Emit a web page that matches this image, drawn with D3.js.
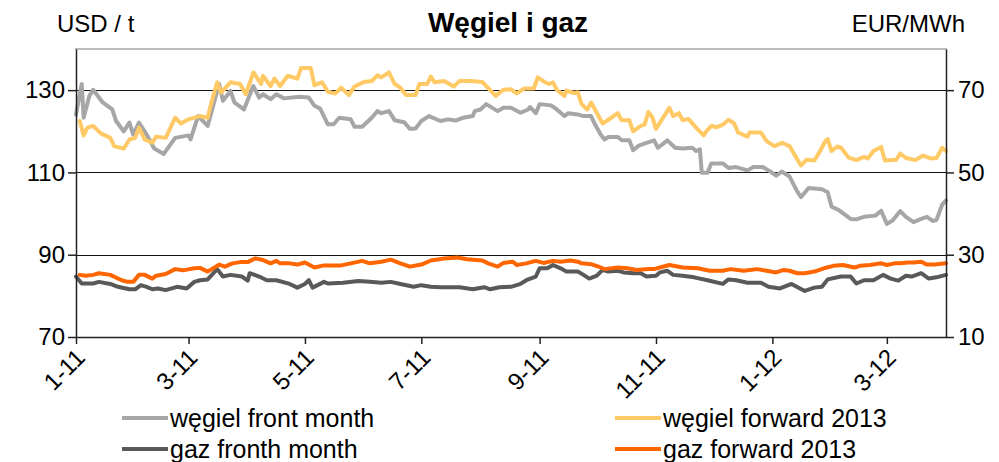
<!DOCTYPE html>
<meta charset="utf-8">
<style>
body { margin: 0; background: #fff; }
svg text { font-family: "Liberation Sans", Arial, sans-serif; fill: #000; }
.axis path, .axis line { fill: none; stroke: #222; stroke-width: 1.5; }
.axis text { font-size: 24px; }
.grid line { stroke: #111; stroke-width: 1.2; }
.series { fill: none; stroke-width: 4; stroke-linejoin: round; stroke-linecap: round; }
</style>
<body>
<svg></svg>
<script src="https://d3js.org/d3.v7.min.js"></script>
<script>

// coal, USD/t (left axis)
var coalFront = [
  ["2011-01-01",124.1],["2011-01-04",131.5],["2011-01-05",123.3],["2011-01-08",128.6],["2011-01-10",130.1],
  ["2011-01-15",127],["2011-01-20",125.3],["2011-01-22",122.5],["2011-01-26",120],["2011-01-29",122.1],
  ["2011-01-31",119.2],["2011-02-03",122.1],["2011-02-07",119.2],["2011-02-11",115.8],["2011-02-16",114.5],
  ["2011-02-22",118.4],["2011-03-01",119],["2011-03-02",118],["2011-03-06",123.7],["2011-03-11",121.3],
  ["2011-03-17",131.5],["2011-03-19",127.4],["2011-03-23",129.8],["2011-03-25",127],["2011-03-30",125.3],
  ["2011-04-04",131],["2011-04-07",128.2],["2011-04-09",129],["2011-04-13",127.8],["2011-04-16",129],
  ["2011-04-20",128],["2011-04-28",128.4],["2011-05-03",128.2],["2011-05-06",126.2],["2011-05-09",125.5],
  ["2011-05-13",121.7],["2011-05-16",121.7],["2011-05-19",123.3],["2011-05-25",122.9],["2011-05-27",121.1],
  ["2011-05-31",121.1],["2011-06-05",123.3],["2011-06-08",124.9],["2011-06-10",124.4],["2011-06-14",124.9],
  ["2011-06-17",122.7],["2011-06-22",122.2],["2011-06-25",120.6],["2011-06-28",120.7],["2011-07-01",122.5],
  ["2011-07-05",123.7],["2011-07-11",122.5],["2011-07-15",122.9],["2011-07-19",122.6],["2011-07-23",123.3],
  ["2011-07-28",123.7],["2011-07-29",124.9],["2011-08-01",125.3],["2011-08-04",126.6],["2011-08-10",124.9],
  ["2011-08-13",125.7],["2011-08-17",125.7],["2011-08-22",124.5],["2011-08-26",125.3],["2011-08-27",125.9],
  ["2011-08-30",124.4],["2011-09-01",126.6],["2011-09-07",126.3],["2011-09-10",125.3],["2011-09-14",123.7],
  ["2011-09-16",124.4],["2011-09-21",124.1],["2011-09-24",123.7],["2011-09-28",123.7],["2011-09-30",121.7],
  ["2011-10-03",119.2],["2011-10-05",118],["2011-10-07",118.6],["2011-10-12",118.6],["2011-10-14",117.8],
  ["2011-10-18",117.8],["2011-10-20",115.4],["2011-10-23",116.5],["2011-10-27",117.2],["2011-10-31",117.8],
  ["2011-11-02",116],["2011-11-07",117.8],["2011-11-11",116],["2011-11-15",115.8],["2011-11-20",116],
  ["2011-11-22",115.2],["2011-11-24",115.6],["2011-11-25",109.9],["2011-11-28",109.9],["2011-11-30",112.2],
  ["2011-12-06",112.2],["2011-12-09",111.1],["2011-12-13",111.3],["2011-12-19",110.5],["2011-12-22",111.3],
  ["2011-12-27",111.3],["2011-12-31",110.2],["2012-01-03",109.2],["2012-01-06",110.2],["2012-01-10",109],
  ["2012-01-14",105.4],["2012-01-16",104],["2012-01-20",106.2],["2012-01-27",105.9],["2012-01-30",105.2],
  ["2012-02-01",101.7],["2012-02-05",100.8],["2012-02-11",98.7],["2012-02-14",98.6],["2012-02-18",99.2],
  ["2012-02-24",99.5],["2012-02-27",100.7],["2012-03-01",97.5],["2012-03-04",98.3],["2012-03-08",100.6],
  ["2012-03-11",99.2],["2012-03-15",97.9],["2012-03-19",98.7],["2012-03-22",99.2],["2012-03-25",98.2],
  ["2012-03-27",98.4],["2012-03-30",102.2],["2012-04-01",103.2]
];

var coalFwd = [
  ["2011-01-03",122.5],["2011-01-05",119],["2011-01-07",120.9],["2011-01-10",121.3],["2011-01-14",119.5],
  ["2011-01-19",118.4],["2011-01-21",116.4],["2011-01-26",115.8],["2011-01-29",118],["2011-02-01",118.4],
  ["2011-02-03",120.9],["2011-02-06",118],["2011-02-10",117.2],["2011-02-12",118.7],["2011-02-17",118.4],
  ["2011-02-22",123.3],["2011-02-25",121.9],["2011-03-01",122.9],["2011-03-07",123.7],["2011-03-11",123.3],
  ["2011-03-13",127],["2011-03-16",131.9],["2011-03-18",129.4],["2011-03-23",131.9],["2011-03-28",131.5],
  ["2011-03-31",129],["2011-04-04",134.3],["2011-04-08",131.5],["2011-04-09",133.5],["2011-04-13",131],
  ["2011-04-15",132.8],["2011-04-18",131],["2011-04-22",133.5],["2011-04-27",132.8],["2011-04-29",135.4],
  ["2011-05-04",135.4],["2011-05-06",131.2],["2011-05-10",131.9],["2011-05-13",129.6],["2011-05-17",129.2],
  ["2011-05-20",130.6],["2011-05-24",128.8],["2011-05-27",130.9],["2011-06-01",132],["2011-06-05",132.2],
  ["2011-06-08",133.6],["2011-06-10",133.1],["2011-06-14",134.3],["2011-06-17",131.5],["2011-06-20",130.6],
  ["2011-06-23",128.8],["2011-06-28",128.8],["2011-06-30",131.5],["2011-07-04",131.5],["2011-07-06",133.3],
  ["2011-07-08",131.9],["2011-07-13",132.2],["2011-07-18",130.9],["2011-07-21",132.2],["2011-07-27",132.2],
  ["2011-08-02",132],["2011-08-04",131],["2011-08-09",128.6],["2011-08-13",130.1],["2011-08-17",130.2],
  ["2011-08-20",129.2],["2011-08-24",130.4],["2011-08-29",130.4],["2011-08-31",133.1],["2011-09-04",131.9],
  ["2011-09-06",131.5],["2011-09-08",131.9],["2011-09-10",130.1],["2011-09-14",128.6],["2011-09-15",129.9],
  ["2011-09-19",129.3],["2011-09-21",129.5],["2011-09-23",126.6],["2011-09-26",125.3],["2011-09-28",127],
  ["2011-09-30",125.3],["2011-10-04",121.9],["2011-10-07",122.8],["2011-10-12",124.4],["2011-10-14",122.7],
  ["2011-10-18",122.7],["2011-10-20",120],["2011-10-24",121.3],["2011-10-26",121.6],["2011-10-28",124.7],
  ["2011-10-30",123.5],["2011-11-01",120.6],["2011-11-04",122.8],["2011-11-08",125.7],["2011-11-10",123.7],
  ["2011-11-13",124.4],["2011-11-15",122.7],["2011-11-18",123],["2011-11-22",120.9],["2011-11-26",119],
  ["2011-11-27",119.8],["2011-11-30",121.3],["2011-12-03",121],["2011-12-06",121.6],["2011-12-09",122.8],
  ["2011-12-12",121.9],["2011-12-14",119.7],["2011-12-19",118.7],["2011-12-20",119.7],["2011-12-26",119.7],
  ["2011-12-29",117.6],["2012-01-02",116.4],["2012-01-06",117.2],["2012-01-10",116.4],["2012-01-13",114],
  ["2012-01-16",111.7],["2012-01-19",113.1],["2012-01-23",112.9],["2012-01-26",115.2],["2012-01-29",117.8],
  ["2012-01-30",118.1],["2012-02-01",115.2],["2012-02-04",116.3],["2012-02-06",116],["2012-02-10",113.6],
  ["2012-02-14",113],["2012-02-18",113.8],["2012-02-20",113.4],["2012-02-23",115.2],["2012-02-27",116.2],
  ["2012-02-29",112.9],["2012-03-06",113.1],["2012-03-08",114.6],["2012-03-11",113.5],["2012-03-16",113],
  ["2012-03-20",114.1],["2012-03-24",113.4],["2012-03-27",113.5],["2012-03-30",116],["2012-04-01",115.2]
];

// gas, EUR/MWh (right axis)
var gasFront = [
  ["2011-01-01",24.7],["2011-01-04",23],["2011-01-10",23],["2011-01-13",23.4],["2011-01-19",22.9],
  ["2011-01-23",22.2],["2011-01-29",21.6],["2011-02-01",21.6],["2011-02-04",22.6],["2011-02-07",22.2],
  ["2011-02-10",21.6],["2011-02-13",21.8],["2011-02-17",21.4],["2011-02-23",22.2],["2011-02-28",21.8],
  ["2011-03-04",23.4],["2011-03-07",23.8],["2011-03-11",24],["2011-03-16",26.5],["2011-03-19",24.7],
  ["2011-03-23",25.1],["2011-03-29",24.7],["2011-04-01",23.7],["2011-04-02",25.5],["2011-04-07",24.7],
  ["2011-04-11",23.8],["2011-04-16",23.8],["2011-04-23",22.9],["2011-04-27",22],["2011-05-01",22.9],
  ["2011-05-03",23.8],["2011-05-05",22],["2011-05-11",23.4],["2011-05-13",23],["2011-05-21",23.2],
  ["2011-05-29",23.6],["2011-06-04",23.4],["2011-06-10",23.2],["2011-06-15",23.4],["2011-06-20",22.9],
  ["2011-06-27",22.2],["2011-07-01",22.6],["2011-07-06",22.2],["2011-07-11",22.1],["2011-07-21",22.1],
  ["2011-07-28",21.6],["2011-08-03",22.1],["2011-08-06",21.6],["2011-08-11",22.1],["2011-08-17",22.2],
  ["2011-08-22",22.9],["2011-08-25",23.8],["2011-08-30",24.7],["2011-09-01",26.7],["2011-09-05",26.7],
  ["2011-09-08",27.5],["2011-09-12",26.7],["2011-09-15",25.9],["2011-09-21",25.9],["2011-09-24",25.1],
  ["2011-09-27",24.2],["2011-10-01",24.9],["2011-10-04",26.3],["2011-10-07",25.9],["2011-10-12",26.1],
  ["2011-10-15",25.7],["2011-10-20",25.5],["2011-10-24",25.5],["2011-10-27",24.7],["2011-11-01",24.9],
  ["2011-11-03",25.7],["2011-11-07",26.1],["2011-11-10",25.1],["2011-11-15",24.9],["2011-11-21",24.5],
  ["2011-11-28",23.8],["2011-12-06",22.9],["2011-12-09",24],["2011-12-13",23.8],["2011-12-19",23.2],
  ["2011-12-26",23.2],["2011-12-30",22.2],["2012-01-05",21.8],["2012-01-11",22.9],["2012-01-18",21.2],
  ["2012-01-23",22],["2012-01-27",22.2],["2012-01-30",24],["2012-02-06",24.7],["2012-02-11",24.7],
  ["2012-02-14",23],["2012-02-18",23.8],["2012-02-23",23.8],["2012-02-28",25.1],["2012-03-03",24.2],
  ["2012-03-07",23.7],["2012-03-11",24.9],["2012-03-14",24.7],["2012-03-19",25.5],["2012-03-23",24.2],
  ["2012-03-27",24.5],["2012-04-01",25.1]
];

var gasFwd = [
  ["2011-01-03",25.1],["2011-01-06",24.9],["2011-01-10",25.1],["2011-01-13",25.5],["2011-01-19",25.1],
  ["2011-01-25",23.8],["2011-01-28",23.4],["2011-01-31",23.4],["2011-02-03",25.1],["2011-02-06",25.1],
  ["2011-02-10",24.2],["2011-02-12",24.9],["2011-02-17",25.3],["2011-02-22",26.5],["2011-02-26",26.2],
  ["2011-03-04",26.7],["2011-03-07",26.8],["2011-03-11",25.9],["2011-03-17",27.6],["2011-03-20",27.1],
  ["2011-03-24",27.9],["2011-03-28",28.2],["2011-04-01",28.2],["2011-04-05",29.1],["2011-04-09",28.7],
  ["2011-04-13",27.9],["2011-04-16",28.5],["2011-04-18",27.9],["2011-04-23",27.9],["2011-04-27",27.6],
  ["2011-05-01",28.1],["2011-05-06",26.9],["2011-05-11",27.4],["2011-05-20",27.4],["2011-05-25",27.9],
  ["2011-05-31",28.5],["2011-06-04",27.9],["2011-06-10",28.3],["2011-06-15",28.8],["2011-06-20",27.9],
  ["2011-06-25",27.1],["2011-07-01",27.6],["2011-07-06",28.6],["2011-07-13",29.1],["2011-07-20",29.3],
  ["2011-07-25",28.9],["2011-08-02",28.6],["2011-08-05",27.9],["2011-08-10",27.1],["2011-08-13",28],
  ["2011-08-18",28.3],["2011-08-20",27.5],["2011-08-25",27.9],["2011-08-30",28.5],["2011-09-03",28],
  ["2011-09-08",28.5],["2011-09-12",28.3],["2011-09-17",28.6],["2011-09-21",28.3],["2011-09-23",27.9],
  ["2011-09-28",27.7],["2011-10-03",26.9],["2011-10-05",26.5],["2011-10-12",26.9],["2011-10-17",26.7],
  ["2011-10-22",26.3],["2011-10-28",26.5],["2011-10-31",26.5],["2011-11-03",26.9],["2011-11-08",27.5],
  ["2011-11-15",26.9],["2011-11-23",26.7],["2011-11-29",26.1],["2011-12-06",26.1],["2011-12-10",26.5],
  ["2011-12-17",26.1],["2011-12-24",26.5],["2011-12-29",26.1],["2012-01-03",25.7],["2012-01-07",26.3],
  ["2012-01-10",26.1],["2012-01-14",25.5],["2012-01-18",25.5],["2012-01-23",25.9],["2012-01-28",26.7],
  ["2012-02-02",27.3],["2012-02-07",27.5],["2012-02-13",26.9],["2012-02-16",27.3],["2012-02-21",27.5],
  ["2012-02-27",27.9],["2012-03-01",27.5],["2012-03-05",27.9],["2012-03-08",27.9],["2012-03-12",28.1],
  ["2012-03-15",28.1],["2012-03-19",28.3],["2012-03-22",27.6],["2012-03-26",27.6],["2012-04-01",27.9]
];

var xTickDates = ["2011-01-01","2011-03-01","2011-05-01","2011-07-01","2011-09-01","2011-11-01","2012-01-01","2012-03-01"];
var xTickLabels = ["1-11","3-11","5-11","7-11","9-11","11-11","1-12","3-12"];
var leftTicks = [70, 90, 110, 130];
var rightTicks = [10, 30, 50, 70];

var seriesNames = ["węgiel front month", "węgiel forward 2013", "gaz fronth month", "gaz forward 2013"];
var seriesColors = ["#a6a6a6", "#ffc965", "#595959", "#ff6600"];

var margin = {top: 49, right: 53, bottom: 125, left: 76},
    width = 999 - margin.left - margin.right,
    height = 462 - margin.top - margin.bottom;

var parse = d3.timeParse("%Y-%m-%d");

var x = d3.scaleTime()
    .domain([parse("2011-01-01"), parse("2012-04-01")])
    .range([0, width]);

var yL = d3.scaleLinear().domain([70, 140]).range([height, 0]);
var yR = d3.scaleLinear().domain([10, 80]).range([height, 0]);

var svg = d3.select("svg")
    .attr("width", 999)
    .attr("height", 462);

var g = svg.append("g")
    .attr("transform", "translate(" + margin.left + "," + margin.top + ")");

// frame top
g.append("line")
    .attr("x1", -1).attr("x2", width + 1)
    .attr("y1", 0).attr("y2", 0)
    .attr("stroke", "#a6a6a6")
    .attr("stroke-width", 1.5);

// gridlines
g.append("g")
    .attr("class", "grid")
    .selectAll("line")
    .data(leftTicks.slice(1))
    .enter().append("line")
    .attr("x1", 0).attr("x2", width)
    .attr("y1", function(d) { return Math.round(yL(d)) + 0.5; })
    .attr("y2", function(d) { return Math.round(yL(d)) + 0.5; });

// lines
var line = function(scale) {
  return d3.line()
    .x(function(d) { return x(parse(d[0])); })
    .y(function(d) { return scale(d[1]); });
};

var seriesData = [coalFront, coalFwd, gasFront, gasFwd];
var seriesScales = [yL, yL, yR, yR];

seriesData.forEach(function(data, i) {
  g.append("path")
    .datum(data)
    .attr("class", "series")
    .attr("stroke", seriesColors[i])
    .attr("d", line(seriesScales[i]));
});

// axes
var xAxis = d3.axisBottom(x)
    .tickValues(xTickDates.map(parse))
    .tickFormat(function(d, i) { return xTickLabels[i]; })
    .tickSize(7)
    .tickSizeOuter(0);

g.append("g")
    .attr("class", "x axis")
    .attr("transform", "translate(0," + height + ")")
    .call(xAxis)
    .selectAll("text")
    .attr("text-anchor", "end")
    .attr("dy", null)
    .attr("y", 0)
    .attr("transform", "translate(10,22) rotate(-45)");

g.append("g")
    .attr("class", "y axis")
    .call(d3.axisLeft(yL).tickValues(leftTicks).tickSize(8).tickSizeOuter(0).tickPadding(3));

g.append("g")
    .attr("class", "y axis")
    .attr("transform", "translate(" + width + ",0)")
    .call(d3.axisRight(yR).tickValues(rightTicks).tickSize(8).tickSizeOuter(0).tickPadding(4));

// titles
svg.append("text")
    .attr("x", 508).attr("y", 32)
    .attr("text-anchor", "middle")
    .style("font-size", "28px")
    .style("font-weight", "bold")
    .text("Węgiel i gaz");

svg.append("text")
    .attr("x", 57).attr("y", 32)
    .style("font-size", "24px")
    .text("USD / t");

svg.append("text")
    .attr("x", 965).attr("y", 32)
    .attr("text-anchor", "end")
    .style("font-size", "24px")
    .text("EUR/MWh");

// legend
var legendPos = [[122, 418], [615, 418], [122, 449], [615, 449]];

var legend = svg.selectAll(".legend")
    .data(seriesNames)
    .enter().append("g")
    .attr("class", "legend")
    .attr("transform", function(d, i) { return "translate(" + legendPos[i][0] + "," + legendPos[i][1] + ")"; });

legend.append("line")
    .attr("x1", 0).attr("x2", 46)
    .attr("stroke", function(d, i) { return seriesColors[i]; })
    .attr("stroke-width", 4);

legend.append("text")
    .attr("x", 48).attr("y", 9)
    .style("font-size", "25px")
    .text(function(d) { return d; });

</script>
